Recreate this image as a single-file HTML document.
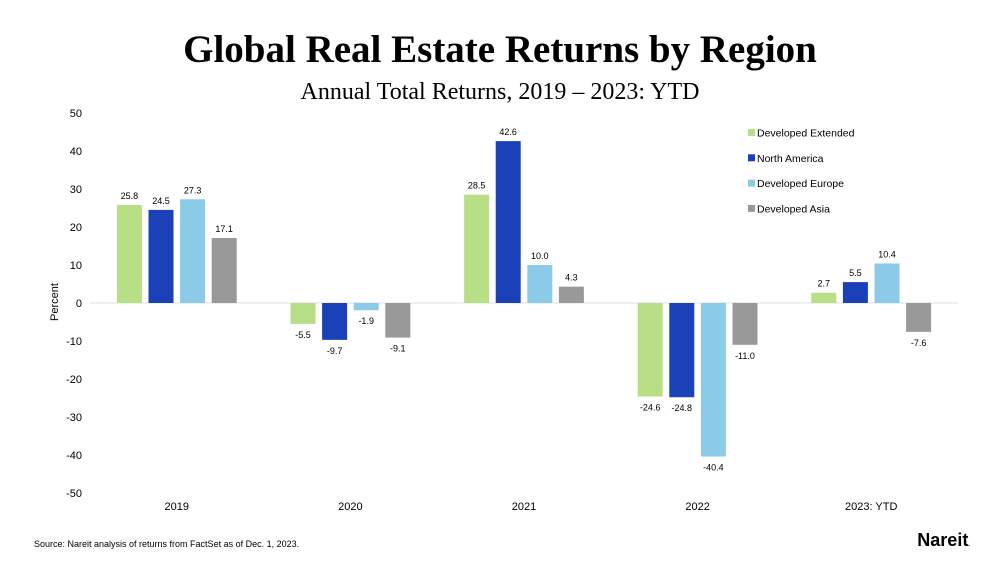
<!DOCTYPE html>
<html><head><meta charset="utf-8"><style>
body{margin:0;background:#fff;}
svg text{font-family:"Liberation Sans",Arial,sans-serif;}
</style></head><body>
<svg width="1000" height="563" viewBox="0 0 1000 563">
<text x="500" y="62" text-anchor="middle" style="font-family:'Liberation Serif',serif;font-weight:bold;font-size:39px" fill="#000">Global Real Estate Returns by Region</text>
<text x="500" y="99" text-anchor="middle" style="font-family:'Liberation Serif',serif;font-size:24px" fill="#000">Annual Total Returns, 2019 – 2023: YTD</text>
<text transform="translate(58,302) rotate(-90)" text-anchor="middle" font-size="11" fill="#000">Percent</text>
<g id="yaxis"></g>
<g id="bars"></g>
<g id="legend"></g>
<text x="34" y="547" font-size="9" fill="#000">Source: Nareit analysis of returns from FactSet as of Dec. 1, 2023.</text>
<text x="970" y="546" text-anchor="end" font-size="18" font-weight="bold" fill="#000">Nareit<tspan font-size="6">.</tspan></text>
</svg>
<script>
const categories=["2019","2020","2021","2022","2023: YTD"];
const seriesNames=["Developed Extended","North America","Developed Europe","Developed Asia"];
const devExtended=[25.8,-5.5,28.5,-24.6,2.7];
const northAmerica=[24.5,-9.7,42.6,-24.8,5.5];
const devEurope=[27.3,-1.9,10.0,-40.4,10.4];
const devAsia=[17.1,-9.1,4.3,-11.0,-7.6];
const yTicks=[50,40,30,20,10,0,-10,-20,-30,-40,-50];
const series=[devExtended,northAmerica,devEurope,devAsia];
const colors=["#b8de86","#1a41b8","#8ccbe8","#999999"];
const NS="http://www.w3.org/2000/svg";
const x0=90,x1=958,yTop=113,yBot=493,ymax=50,ymin=-50;
const y=v=>yTop+(ymax-v)/(ymax-ymin)*(yBot-yTop);
const band=(x1-x0)/categories.length;
const cx=i=>x0+band*(i+0.5);
function mk(t,a,p){const e=document.createElementNS(NS,t);for(const k in a)e.setAttribute(k,a[k]);p.appendChild(e);return e;}
const ya=document.getElementById('yaxis');
yTicks.forEach(t=>{const e=mk('text',{x:82,y:y(t)+4,'text-anchor':'end','font-size':11,fill:'#000'},ya);


e.textContent=t;});
const zl=mk('line',{x1:x0,x2:x1,y1:y(0),y2:y(0),stroke:'#e0e0e0','stroke-width':1},ya);


const bg=document.getElementById('bars');
const bw=25,pitch=31.6;
categories.forEach((c,i)=>{
 const ct=mk('text',{x:cx(i),y:510,'text-anchor':'middle','font-size':11,fill:'#000'},bg);
 
 
 ct.textContent=c;
 series.forEach((s,j)=>{
  const v=s[i];const bx=cx(i)+(j-1.5)*pitch-bw/2;
  const top=Math.min(y(v),y(0)),h=Math.abs(y(v)-y(0));
  const r=mk('rect',{x:bx,y:top,width:bw,height:h,fill:colors[j]},bg);
  
  
  const lt=mk('text',{x:bx+bw/2,y:v>=0?y(v)-6:y(v)+14,'text-anchor':'middle','font-size':9,fill:'#000'},bg);
  
  
  lt.textContent=v.toFixed(1);
 });
});
const lg=document.getElementById('legend');
seriesNames.forEach((n,j)=>{
 const yy=133+j*25.3;
 const r=mk('rect',{x:748,y:yy-4,width:7,height:7,fill:colors[j]},lg);
 
 
 const t=mk('text',{x:757,y:yy+3.5,'font-size':10.5,fill:'#000'},lg);
 
 
 t.textContent=n;
});
</script>
</body></html>
